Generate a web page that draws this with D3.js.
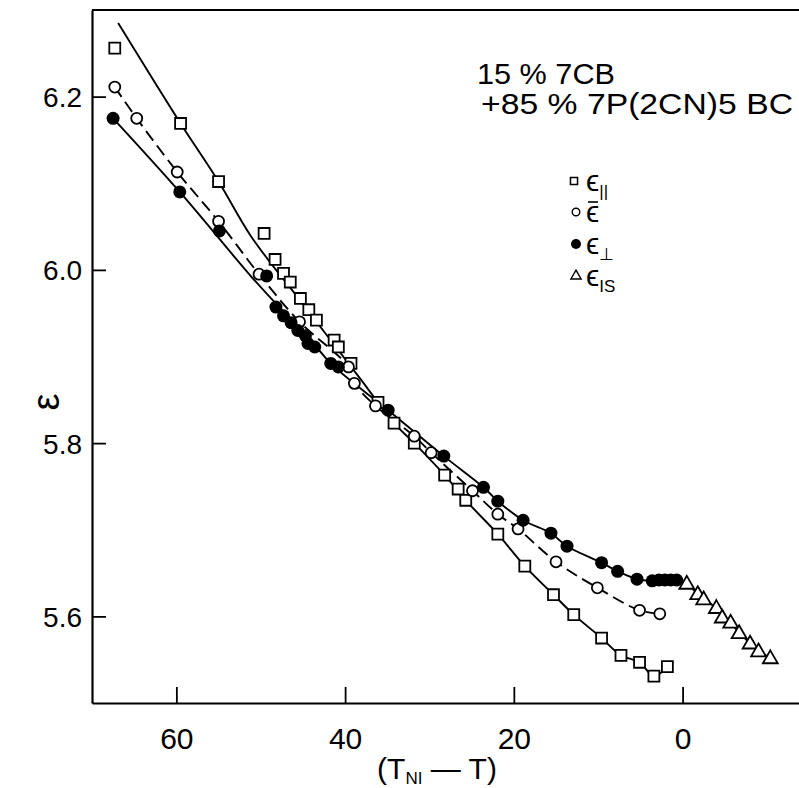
<!DOCTYPE html>
<html><head><meta charset="utf-8">
<script src="https://cdn.jsdelivr.net/npm/d3@7"></script>
<style>
body{margin:0;background:#fff;}
text{font-family:"Liberation Sans",Arial,sans-serif;fill:#000;}
</style></head>
<body><svg id="c" width="799" height="788"></svg>
<script>
// ---- data (T_NI - T, epsilon) ----
const parT   = [67.3,59.5,55.0,49.6,48.3,47.3,46.5,45.3,44.3,43.4,41.3,40.8,39.3,36.1,34.2,31.8,28.2,26.6,25.7,21.9,18.7,15.3,12.9,9.6,7.3,5.1,3.4,1.8];
const parEps = [6.256,6.169,6.102,6.042,6.012,5.996,5.986,5.967,5.954,5.942,5.919,5.911,5.892,5.847,5.823,5.800,5.763,5.747,5.734,5.695,5.658,5.625,5.602,5.575,5.555,5.547,5.531,5.542];
const meanT   = [67.3,64.7,59.9,55.0,50.2,45.4,39.6,38.9,36.4,31.8,29.8,24.9,21.9,19.5,15.0,10.1,5.1,2.7];
const meanEps = [6.211,6.175,6.113,6.056,5.995,5.940,5.888,5.869,5.843,5.808,5.789,5.745,5.718,5.701,5.663,5.633,5.607,5.603];
const perpT   = [67.5,59.6,54.9,49.3,48.2,47.3,46.4,45.6,44.7,44.4,43.6,41.7,40.8,34.9,28.3,23.6,21.9,18.9,15.6,13.7,9.6,7.7,5.4,3.6,2.8,2.1,1.4,0.7];
const perpEps = [6.175,6.090,6.045,5.993,5.957,5.947,5.939,5.930,5.924,5.915,5.911,5.892,5.888,5.838,5.785,5.749,5.733,5.711,5.696,5.681,5.662,5.652,5.643,5.641,5.642,5.642,5.642,5.642];
const isoT   = [-0.5,-1.8,-2.5,-4.0,-4.7,-5.7,-6.7,-8.0,-9.0,-10.4];
const isoEps = [5.638,5.626,5.620,5.610,5.599,5.593,5.581,5.569,5.560,5.552];
// fitted curves
const parFitT   = [66.9,59.5,55.0,51.1,45.2,38.1,34.2,31.8,28.2,25.7,21.9,18.7,15.3,12.9,9.6,7.3,5.1,3.4,1.8];
const parFitEps = [6.285,6.169,6.102,6.038,5.963,5.873,5.823,5.800,5.763,5.734,5.695,5.658,5.625,5.602,5.575,5.555,5.547,5.531,5.542];
const perpFitT   = [67.5,59.6,51.1,47.8,44.7,41.7,34.9,28.3,23.6,21.9,18.9,15.6,13.7,9.6,7.7,5.4,3.6,0.7];
const perpFitEps = [6.175,6.090,5.992,5.957,5.927,5.892,5.838,5.785,5.749,5.733,5.711,5.696,5.681,5.662,5.652,5.643,5.641,5.642];
const xTicks = [60,40,20,0];
const yTicks = [5.6,5.8,6.0,6.2];

const svg = d3.select("#c");
const x = d3.scaleLinear().domain([70,-13.8]).range([92,799]);
const y = d3.scaleLinear().domain([5.5,6.3]).range([703,10]);
const zip = (a,b)=>a.map((v,i)=>[v,b[i]]);

// frame
svg.append("line").attr("x1",x(70)).attr("x2",799).attr("y1",y(6.3)).attr("y2",y(6.3)).attr("stroke","#000").attr("stroke-width",1.8);

const ya = svg.append("g").attr("transform",`translate(${x(70)},0)`)
  .call(d3.axisLeft(y).tickValues(yTicks).tickFormat(d3.format(".1f")).tickSize(-14).tickSizeOuter(0).tickPadding(10));
ya.selectAll("text").style("font-size","28px").attr("dy","0.36em");
const xa = svg.append("g").attr("transform",`translate(0,${y(5.5)})`)
  .call(d3.axisBottom(x).tickValues(xTicks).tickFormat(d3.format("d")).tickSize(-16).tickSizeOuter(0).tickPadding(25));
xa.selectAll("text").style("font-size","30px");
svg.selectAll(".domain").attr("stroke-width",2.2);
svg.selectAll(".tick line").attr("stroke-width",1.8);

// curves
const line = d3.line().x(d=>x(d[0])).y(d=>y(d[1])).curve(d3.curveCatmullRom);
const g = svg.append("g");
g.append("path").attr("d",line(zip(parFitT,parFitEps))).attr("fill","none").attr("stroke","#000").attr("stroke-width",1.9);
g.append("path").attr("d",line(zip(perpFitT,perpFitEps))).attr("fill","none").attr("stroke","#000").attr("stroke-width",1.9);
g.append("path").attr("d",line(zip(meanT,meanEps))).attr("fill","none").attr("stroke","#000").attr("stroke-width",1.9).attr("stroke-dasharray","12,6");
g.append("path").attr("d",d3.line().x(d=>x(d[0])).y(d=>y(d[1]))(zip(isoT,isoEps))).attr("fill","none").attr("stroke","#000").attr("stroke-width",1.9);

// markers
const sq = d3.symbol().type(d3.symbolSquare).size(120);
const tri = d3.symbol().type(d3.symbolTriangle).size(95);
g.selectAll(".par").data(zip(parT,parEps)).join("path")
  .attr("d",sq).attr("transform",d=>`translate(${x(d[0])},${y(d[1])})`)
  .attr("fill","#fff").attr("stroke","#000").attr("stroke-width",1.8);
g.selectAll(".mean").data(zip(meanT,meanEps)).join("circle")
  .attr("cx",d=>x(d[0])).attr("cy",d=>y(d[1])).attr("r",5.5)
  .attr("fill","#fff").attr("stroke","#000").attr("stroke-width",1.8);
g.selectAll(".perp").data(zip(perpT,perpEps)).join("circle")
  .attr("cx",d=>x(d[0])).attr("cy",d=>y(d[1])).attr("r",6.5).attr("fill","#000");
g.selectAll(".iso").data(zip(isoT,isoEps)).join("path")
  .attr("d",tri).attr("transform",d=>`translate(${x(d[0])},${y(d[1])+1})`)
  .attr("fill","#fff").attr("stroke","#000").attr("stroke-width",1.8);

// titles
const t = svg.append("text").attr("x",437).attr("y",779).attr("text-anchor","middle").style("font-size","30px");
t.append("tspan").text("(T");
t.append("tspan").text("NI").style("font-size","17px").attr("dy",5);
t.append("tspan").text(" \u2014 T)").attr("dy",-5);
svg.append("text").attr("transform","translate(46,402) rotate(-90)").attr("text-anchor","middle").attr("dy","0.35em").style("font-size","38px").text("\u03b5");

svg.append("text").attr("x",477).attr("y",84).style("font-size","29px").attr("textLength",138).attr("lengthAdjust","spacingAndGlyphs").text("15 % 7CB");
svg.append("text").attr("x",481).attr("y",114).style("font-size","29px").attr("textLength",312).attr("lengthAdjust","spacingAndGlyphs").text("+85 % 7P(2CN)5 BC");

// legend
const lx = 576, lt = 586;
const rows = [
  {y:181, sub:"||"}, {y:212, sub:""}, {y:244, sub:"\u22a5"}, {y:276, sub:"IS"}
];
svg.append("path").attr("d",d3.symbol().type(d3.symbolSquare).size(50)).attr("transform",`translate(${lx-2},${rows[0].y})`).attr("fill","#fff").attr("stroke","#000").attr("stroke-width",1.5);
svg.append("circle").attr("cx",lx).attr("cy",rows[1].y).attr("r",3.8).attr("fill","#fff").attr("stroke","#000").attr("stroke-width",1.4);
svg.append("circle").attr("cx",lx).attr("cy",rows[2].y).attr("r",5).attr("fill","#000");
svg.append("path").attr("d",d3.symbol().type(d3.symbolTriangle).size(45)).attr("transform",`translate(${lx},${rows[3].y})`).attr("fill","#fff").attr("stroke","#000").attr("stroke-width",1.4);
rows.forEach((r,i)=>{
  const tx = svg.append("text").attr("x",lt).attr("y",r.y+10).style("font-size","30px");
  tx.append("tspan").text("\u03f5");
  if(r.sub) tx.append("tspan").text(r.sub).style("font-size","17px").attr("dy",6);
});
// bar over mean epsilon
svg.append("line").attr("x1",lt+2).attr("x2",lt+12).attr("y1",rows[1].y-10).attr("y2",rows[1].y-10).attr("stroke","#000").attr("stroke-width",1.6);
</script></body></html>
